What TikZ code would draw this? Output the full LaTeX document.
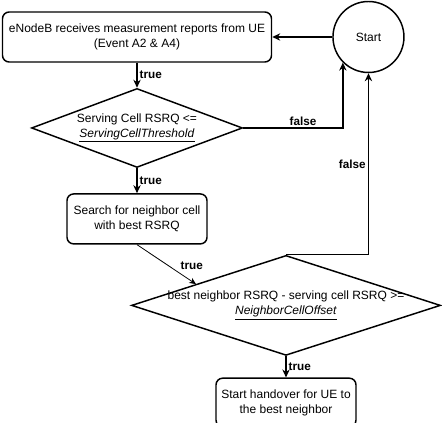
\documentclass[tikz,border=0pt]{standalone}
\usepackage{fontspec}
\setmainfont{Liberation Sans}
\usetikzlibrary{positioning, calc, arrows.meta, shapes.geometric}

\begin{document}
\begin{tikzpicture}
    [x=0.75pt, y=-0.75pt,
    font=\fontsize{9}{11.25}\selectfont,
    roundedbox/.style={rectangle, draw=black, line width=1.1pt, rounded corners=5pt, align=center, inner sep=0pt},
    decision/.style={diamond, draw=black, line width=1.1pt, inner sep=0pt},
    startnode/.style={circle, draw=black, line width=1.1pt, minimum size=53.25pt, inner sep=0pt},
    flow/.style={-{Stealth[length=6pt, width=5.5pt]}, line width=1.1pt},
    thinflow/.style={-{Stealth[length=5pt, width=4.5pt]}, line width=0.6pt},
    answer/.style={font=\fontsize{8.8}{10}\selectfont\bfseries, inner sep=1.5pt}]

    \useasboundingbox (0,0) rectangle (442,423);

    %Nodes
    \node[roundedbox, minimum width=201.75pt, minimum height=37.5pt](reports) at (137,37) {eNodeB receives measurement reports from UE\\(Event A2 \& A4)};
    \node[startnode](start)[right=45pt of reports] {Start};
    \node[decision, minimum width=158.25pt, minimum height=59.25pt](servcheck)[below=18.75pt of reports] {};
    \node[roundedbox, minimum width=105pt, minimum height=37.5pt](search)[below=18.75pt of servcheck] {Search for neighbor cell\\with best RSRQ};
    \node[decision, minimum width=231.75pt, minimum height=75pt](neighcheck)[below=7.5pt of search, xshift=111.75pt] {};
    \node[roundedbox, minimum width=105pt, minimum height=36.5pt](handover)[below=16pt of neighcheck] {Start handover for UE to\\the best neighbor};

    %Conditions
    \node[align=center](servchecktext) at (servcheck) {Serving Cell RSRQ <=\\\underline{\textit{ServingCellThreshold}}};
    \node[align=center](neighchecktext) at (neighcheck) {best neighbor RSRQ - serving cell RSRQ >=\\\underline{\textit{NeighborCellOffset}}};
    \coordinate (neighentry) at ($(neighcheck.west)!0.42!(neighcheck.north)$);

    %Lines
    \draw[flow](start) -- (reports);
    \draw[flow](reports) -- node[answer, right]{true} (servcheck);
    \draw[flow](servcheck) -- node[answer, right]{true} (search);
    \draw[flow](servcheck.east) -| node[answer, above, pos=0.3]{false} (start.south west);
    \draw[thinflow](search.south) -- node[answer, above right, pos=0.7]{true} (neighentry);
    \draw[flow](neighcheck.north) -| node[answer, left, pos=0.75]{false} (start.south);
    \draw[flow](neighcheck) -- node[answer, right]{true} (handover);

\end{tikzpicture}
\end{document}
